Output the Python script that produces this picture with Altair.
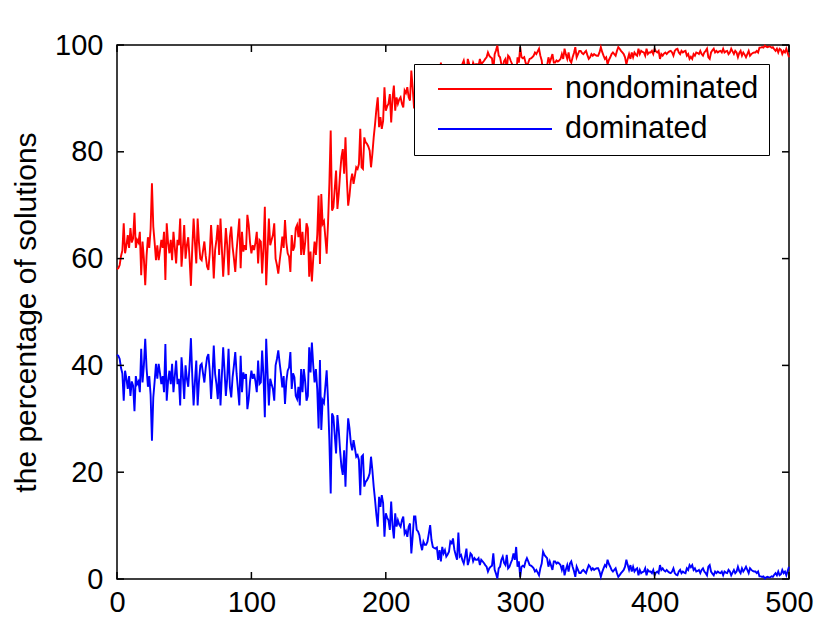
import altair as alt
import pandas as pd

# ---- data ----
# nondominated percentage, generations 0..149
nondom_000_049 = [58.0, 58.2, 58.8, 60.5, 61.5, 66.6, 61.0, 62.5, 64.4, 62.0,
                  65.7, 63.0, 63.8, 68.6, 62.0, 63.5, 63.0, 65.0, 56.9, 63.2,
                  60.0, 55.0, 60.5, 64.0, 62.0, 65.5, 74.1, 66.0, 63.0, 59.7,
                  62.5, 59.7, 61.5, 63.5, 62.0, 65.0, 56.0, 66.6, 63.0, 61.0,
                  63.5, 59.7, 65.0, 62.0, 59.1, 63.5, 62.5, 67.5, 58.5, 62.0]
nondom_050_099 = [66.3, 60.0, 62.5, 64.0, 60.0, 54.9, 62.0, 67.5, 63.0, 59.1,
                  67.5, 63.0, 60.0, 59.7, 61.5, 63.2, 60.5, 58.5, 57.9, 61.0,
                  66.3, 62.0, 56.3, 61.6, 63.5, 66.3, 60.7, 67.5, 62.0, 56.6,
                  61.0, 65.7, 62.5, 56.9, 64.1, 66.0, 62.2, 60.0, 57.5, 61.6,
                  64.5, 67.5, 58.2, 65.0, 61.3, 62.5, 61.6, 68.2, 66.3, 63.0]
nondom_100_149 = [61.0, 62.5, 61.6, 63.0, 65.0, 59.1, 63.5, 63.2, 57.2, 62.0,
                  69.7, 55.0, 61.3, 67.5, 62.5, 63.5, 64.4, 66.6, 60.0, 58.8,
                  57.2, 59.5, 61.6, 64.1, 62.0, 67.2, 63.0, 61.0, 60.4, 57.5,
                  64.4, 61.5, 62.2, 65.7, 66.3, 64.0, 67.5, 60.7, 65.0, 60.7,
                  63.0, 66.6, 65.7, 56.6, 61.3, 55.7, 60.0, 63.2, 60.7, 64.5]

# dominated percentage, generations 150..500
dom_150_199 = [28.2, 41.0, 27.9, 33.5, 33.0, 36.0, 39.1, 33.5, 26.0, 16.0,
               31.0, 30.4, 27.0, 23.5, 30.7, 27.9, 24.0, 21.0, 19.5, 24.1,
               17.3, 25.0, 30.1, 28.2, 25.4, 24.1, 26.0, 24.5, 22.9, 23.2,
               22.3, 15.7, 22.9, 23.2, 17.3, 18.2, 18.5, 19.0, 19.8, 22.9,
               20.4, 17.3, 14.8, 12.0, 9.8, 15.4, 13.5, 15.7, 14.2, 7.9]
dom_200_249 = [12.3, 11.5, 11.0, 9.2, 14.5, 10.0, 7.6, 12.3, 9.8, 11.0,
               10.2, 9.8, 11.0, 11.7, 8.5, 9.0, 7.9, 9.8, 10.4, 4.8,
               8.0, 11.7, 11.7, 9.2, 8.9, 8.2, 6.5, 5.4, 7.0, 6.4,
               6.4, 7.0, 8.5, 10.1, 7.3, 6.0, 5.8, 5.7, 5.9, 3.6,
               5.4, 3.3, 6.0, 4.8, 5.4, 4.2, 4.6, 5.1, 7.0, 6.7]
dom_250_299 = [7.6, 5.5, 4.5, 3.6, 8.7, 4.2, 4.5, 3.5, 2.9, 4.2,
               5.7, 2.6, 3.5, 4.8, 4.5, 3.3, 3.9, 3.6, 3.6, 3.9,
               2.6, 3.6, 3.3, 3.0, 2.6, 2.3, 1.4, 2.0, 2.3, 2.5,
               4.8, 1.7, 1.0, 0.1, 2.0, 2.3, 3.6, 4.2, 3.0, 2.6,
               4.5, 2.0, 2.3, 3.0, 3.6, 4.8, 3.6, 6.0, 2.3, 3.3]
dom_300_349 = [0.4, 2.3, 2.5, 2.3, 3.3, 3.9, 3.3, 2.6, 2.5, 2.3,
               2.0, 1.4, 1.7, 1.2, 0.7, 2.0, 2.9, 5.1, 4.5, 4.2,
               3.9, 2.3, 3.3, 2.5, 1.7, 3.3, 3.3, 2.9, 3.1, 2.9,
               2.6, 1.7, 2.6, 0.7, 1.8, 2.6, 1.4, 2.9, 3.3, 2.3,
               1.5, 0.4, 2.3, 1.7, 1.1, 1.1, 1.5, 1.7, 1.4, 1.1]
dom_350_399 = [1.9, 2.6, 2.3, 1.7, 2.0, 1.7, 1.9, 2.0, 2.0, 1.4,
               0.4, 1.3, 2.0, 2.6, 2.3, 3.6, 2.8, 2.3, 1.7, 1.4,
               1.7, 2.0, 1.1, 0.4, 0.7, 1.1, 1.4, 1.7, 2.3, 3.6,
               2.6, 1.7, 2.6, 1.4, 2.3, 1.4, 1.8, 2.0, 0.7, 1.7,
               1.1, 1.3, 1.4, 2.0, 0.7, 1.7, 1.4, 1.4, 1.1, 1.7]
dom_400_449 = [0.7, 1.2, 1.4, 1.1, 2.6, 1.7, 2.0, 1.6, 1.4, 1.7,
               1.4, 1.2, 1.1, 1.4, 2.0, 1.1, 0.8, 0.7, 1.4, 1.7,
               1.1, 1.4, 1.2, 1.1, 2.0, 1.7, 2.6, 2.2, 2.6, 1.7,
               2.0, 1.4, 1.5, 1.7, 1.1, 1.7, 2.0, 1.4, 1.1, 0.7,
               2.3, 2.6, 1.4, 1.0, 0.7, 1.4, 1.1, 1.4, 1.2, 1.1]
dom_450_500 = [1.4, 0.7, 1.4, 1.2, 1.1, 1.7, 1.4, 0.7, 1.2, 1.7,
               1.1, 1.4, 2.3, 1.5, 1.1, 2.0, 1.4, 1.8, 2.3, 1.7,
               1.1, 2.0, 1.7, 1.5, 1.4, 1.4, 1.1, 1.4, 0.5, 0.5,
               0.4, 0.5, 0.1, 0.3, 0.4, 0.3, 0.3, 0.5, 0.4, 0.8,
               1.1, 0.7, 1.4, 0.7, 0.9, 1.7, 1.1, 1.4, 0.7, 1.5, 2.3]

series_names = ["nondominated", "dominated"]
series_colors = ["#ff0000", "#0000ff"]
x_ticks = [0, 100, 200, 300, 400, 500]
y_ticks = [0, 20, 40, 60, 80, 100]
y_title = "the percentage of solutions"

# the two percentages are complementary (they sum to 100)
nondom_early = nondom_000_049 + nondom_050_099 + nondom_100_149
dom_late = (dom_150_199 + dom_200_249 + dom_250_299 + dom_300_349
            + dom_350_399 + dom_400_449 + dom_450_500)
nondominated = nondom_early + [round(100 - v, 1) for v in dom_late]
dominated = [round(100 - v, 1) for v in nondom_early] + dom_late
n = len(nondominated)
gens = list(range(n))

df = pd.DataFrame({
    "gen": gens + gens,
    "pct": nondominated + dominated,
    "series": [series_names[0]] * n + [series_names[1]] * n,
})
xt = pd.DataFrame({"gen": x_ticks})
yt = pd.DataFrame({"pct": y_ticks})

W, H = 672, 534
FONT = "Liberation Sans"
TL = 7  # inward tick length

xs = alt.Scale(domain=[0, 500], nice=False, zero=False)
ys = alt.Scale(domain=[0, 100], nice=False, zero=False)
x_axis = alt.Axis(values=x_ticks, title=None, labelPadding=9, format="d",
                  labelFlush=False)
y_axis = alt.Axis(values=y_ticks, title=y_title, labelPadding=14,
                  titlePadding=13, format="d", labelFlush=False)

lines = alt.Chart(df).mark_line(strokeWidth=1.9).encode(
    x=alt.X("gen:Q", scale=xs, axis=x_axis),
    y=alt.Y("pct:Q", scale=ys, axis=y_axis),
    color=alt.Color("series:N",
                    scale=alt.Scale(domain=series_names, range=series_colors),
                    legend=alt.Legend(
                        title=None, orient="none", legendX=297, legendY=19,
                        fillColor="white", strokeColor="black",
                        padding=10, symbolType="stroke", symbolSize=114 * 114,
                        symbolStrokeWidth=1.9, symbolOffset=13,
                        labelOffset=12, labelFontSize=30.5, labelFont=FONT,
                        labelColor="black", clipHeight=30, rowPadding=9,
                        labelLimit=400)),
    order=alt.Order("gen:Q"),
)

tick_style = dict(color="black", strokeWidth=1.5)
bottom_ticks = alt.Chart(xt).mark_rule(**tick_style).encode(
    x=alt.X("gen:Q", scale=xs, axis=x_axis), y=alt.value(H), y2=alt.value(H - TL))
top_ticks = alt.Chart(xt).mark_rule(**tick_style).encode(
    x=alt.X("gen:Q", scale=xs, axis=x_axis), y=alt.value(0), y2=alt.value(TL))
left_ticks = alt.Chart(yt).mark_rule(**tick_style).encode(
    y=alt.Y("pct:Q", scale=ys, axis=y_axis), x=alt.value(0), x2=alt.value(TL))
right_ticks = alt.Chart(yt).mark_rule(**tick_style).encode(
    y=alt.Y("pct:Q", scale=ys, axis=y_axis), x=alt.value(W - TL), x2=alt.value(W))

chart = alt.layer(lines, bottom_ticks, top_ticks, left_ticks, right_ticks).properties(
    width=W, height=H,
    padding={"left": 109, "top": 37, "right": 30, "bottom": 38},
    autosize=alt.AutoSizeParams(type="none"),
    background="white",
).configure_view(
    stroke="black", strokeWidth=1.5
).configure_axis(
    domain=False, ticks=False, grid=False,
    labelFont=FONT, labelFontSize=29, labelColor="black",
    titleFont=FONT, titleFontSize=30, titleColor="black", titleFontWeight="normal",
)

chart.save("out.html", embed_options={"renderer": "svg", "actions": False})
